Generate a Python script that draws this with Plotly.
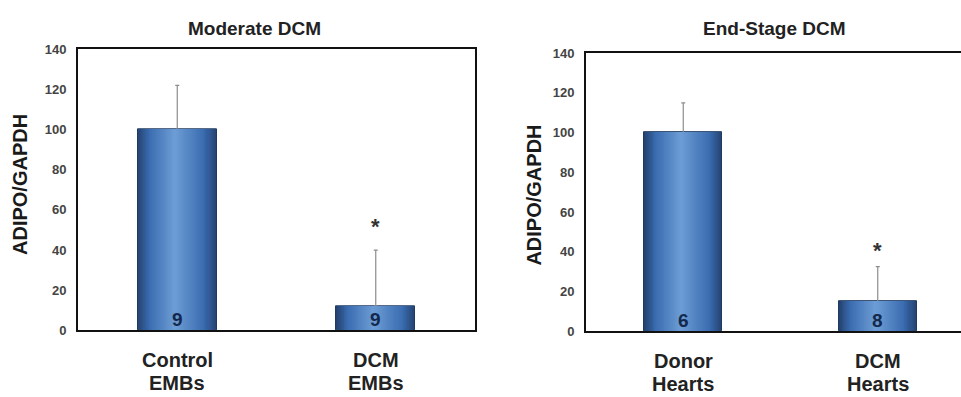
import plotly.graph_objects as go

# ---------------- data ----------------
left_title = "Moderate DCM"
left_cats = ["Control EMBs", "DCM EMBs"]
left_line1 = ["Control", "DCM"]
left_line2 = ["EMBs", "EMBs"]
left_vals = [100, 12]
left_err = [22, 28]
left_n = ["9", "9"]
left_sig = ["", "*"]
left_sig_y = [0, 54]

right_title = "End-Stage DCM"
right_cats = ["Donor Hearts", "DCM Hearts"]
right_line1 = ["Donor", "DCM"]
right_line2 = ["Hearts", "Hearts"]
right_vals = [100, 15]
right_err = [15, 17.5]
right_n = ["6", "8"]
right_sig = ["", "*"]
right_sig_y = [0, 43]

y_ticks = [0, 20, 40, 60, 80, 100, 120, 140]
y_title = "ADIPO/GAPDH"

# ---------------- style ----------------
FONT = "Liberation Sans, Arial, sans-serif"
W, H = 961, 397
STOPS = [(0.0, (36, 66, 112)), (0.3, (58, 108, 176)), (1.0, (110, 158, 214))]
N_LAYERS = 40
BAR_W = 0.4
HIGHLIGHT = 0.47  # position of lightest band across the bar (0=left, 1=right)

def color_at(t):
    for (t0, c0), (t1, c1) in zip(STOPS[:-1], STOPS[1:]):
        if t <= t1:
            u = (t - t0) / (t1 - t0)
            return "rgb(%d,%d,%d)" % tuple(round(c0[i] + (c1[i] - c0[i]) * u) for i in range(3))
    return "rgb(%d,%d,%d)" % STOPS[-1][1]

fig = go.Figure()

def add_panel(cats, vals, err, xa, ya):
    for k in range(N_LAYERS):
        frac = k / N_LAYERS
        left = -BAR_W / 2 + frac * HIGHLIGHT * BAR_W
        right = BAR_W / 2 - frac * (1 - HIGHLIGHT) * BAR_W
        kw = {}
        if k == 0:
            kw["error_y"] = dict(type="data", symmetric=False, array=err,
                                 arrayminus=[0] * len(err), color="#8c8c8c",
                                 thickness=1.2, width=2)
            kw["marker_line"] = dict(color="#1f3a60", width=1)
        else:
            kw["marker_line"] = dict(width=0)
        fig.add_trace(go.Bar(x=cats, y=vals, width=right - left, offset=left,
                             marker_color=color_at(frac),
                             xaxis=xa, yaxis=ya, showlegend=False,
                             hoverinfo="skip", **kw))

add_panel(left_cats, left_vals, left_err, "x", "y")
add_panel(right_cats, right_vals, right_err, "x2", "y2")

annotations = []

def panel_text(cats, l1, l2, ns, sig, sig_y, xref, yref, ydom_bottom):
    for i, c in enumerate(cats):
        annotations.append(dict(x=c, y=0, xref=xref, yref=yref, text=ns[i],
                                showarrow=False, yanchor="bottom", yshift=-2,
                                font=dict(family=FONT, size=19, color="#13294d", weight="bold")))
        if sig[i]:
            annotations.append(dict(x=c, y=sig_y[i], xref=xref, yref=yref, text=sig[i],
                                    showarrow=False, yanchor="middle", yshift=-5,
                                    font=dict(family=FONT, size=22, color="#333333", weight="bold")))
        annotations.append(dict(x=c, y=ydom_bottom, xref=xref, yref="paper", text=l1[i],
                                showarrow=False, yanchor="middle", yshift=-30,
                                font=dict(family=FONT, size=20, color="#222222", weight="bold")))
        annotations.append(dict(x=c, y=ydom_bottom, xref=xref, yref="paper", text=l2[i],
                                showarrow=False, yanchor="middle", yshift=-53,
                                font=dict(family=FONT, size=20, color="#222222", weight="bold")))

L_YDOM = [61 / H, 353 / H]
R_YDOM = [60 / H, 349 / H]

panel_text(left_cats, left_line1, left_line2, left_n, left_sig, left_sig_y, "x", "y", L_YDOM[0])
panel_text(right_cats, right_line1, right_line2, right_n, right_sig, right_sig_y, "x2", "y2", R_YDOM[0])

# titles
annotations.append(dict(x=254 / W, y=(H - 22) / H, xref="paper", yref="paper", text=left_title,
                        showarrow=False, xanchor="center", yanchor="middle",
                        font=dict(family=FONT, size=19, color="#222222", weight="bold")))
annotations.append(dict(x=774 / W, y=(H - 22) / H, xref="paper", yref="paper", text=right_title,
                        showarrow=False, xanchor="center", yanchor="middle",
                        font=dict(family=FONT, size=19, color="#222222", weight="bold")))
# y titles
annotations.append(dict(x=20 / W, y=(H - 185) / H, xref="paper", yref="paper", text=y_title,
                        showarrow=False, textangle=-90, xanchor="center", yanchor="middle",
                        font=dict(family=FONT, size=20, color="#1a1a1a", weight="bold")))
annotations.append(dict(x=534 / W, y=(H - 196) / H, xref="paper", yref="paper", text=y_title,
                        showarrow=False, textangle=-90, xanchor="center", yanchor="middle",
                        font=dict(family=FONT, size=20, color="#1a1a1a", weight="bold")))

yaxis_common = dict(range=[0, 140], tickvals=y_ticks, showgrid=False, zeroline=False,
                    showline=True, linecolor="#111111", linewidth=2,
                    ticks="outside", ticklen=7, tickcolor="rgba(0,0,0,0)",
                    tickfont=dict(family=FONT, size=13, color="#444444", weight="bold"))
xaxis_common = dict(type="category", showgrid=False, zeroline=False, showline=True,
                    linecolor="#111111", linewidth=2, showticklabels=False, ticks="",
                    mirror=True)

fig.update_layout(
    width=W, height=H, autosize=False,
    margin=dict(l=0, r=0, t=0, b=0),
    paper_bgcolor="white", plot_bgcolor="white",
    barmode="overlay", bargap=0,
    xaxis=dict(domain=[78 / W, 475 / W], range=[-0.5, 1.5], anchor="y", **xaxis_common),
    yaxis=dict(domain=L_YDOM, anchor="x", mirror=True, **yaxis_common),
    xaxis2=dict(domain=[586 / W, 1.0], range=[-0.5, 1.428], anchor="y2", **xaxis_common),
    yaxis2=dict(domain=R_YDOM, anchor="x2", mirror=False, **yaxis_common),
    annotations=annotations,
)

fig.write_html("out.html", config={"displayModeBar": False},
               post_script="document.body.style.margin='0';document.body.style.overflow='hidden';")
